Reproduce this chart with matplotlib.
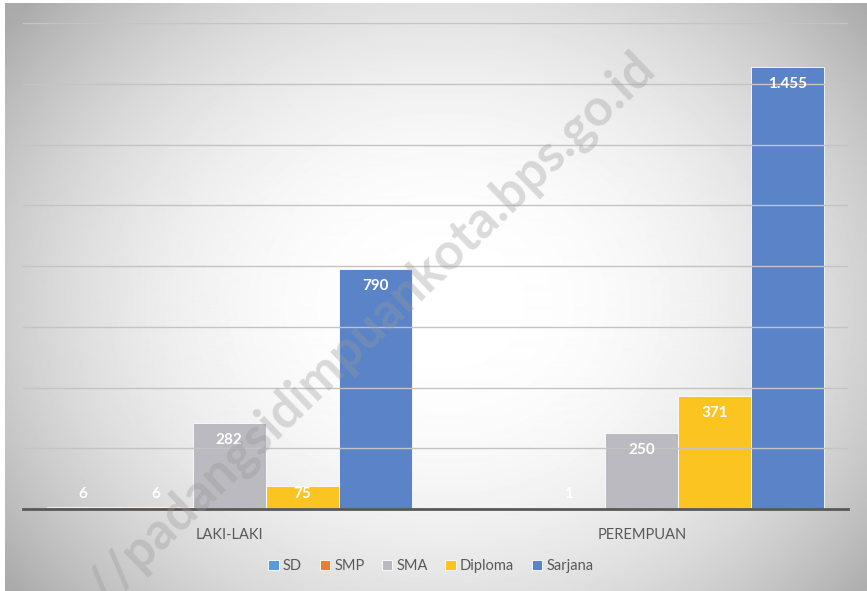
import matplotlib
matplotlib.use("Agg")
import matplotlib.pyplot as plt
import numpy as np

plt.rcParams["font.family"] = ["Lato", "DejaVu Sans"]

# data
groups = ["LAKI-LAKI", "PEREMPUAN"]
series = ["SD", "SMP", "SMA", "Diploma", "Sarjana"]
values = {
    "SD": [6, np.nan],
    "SMP": [6, 1],
    "SMA": [282, 250],
    "Diploma": [75, 371],
    "Sarjana": [790, 1455],
}
colors = ["#5B9BD5", "#ED7D31", "#BABAC0", "#FBC420", "#5A83C8"]

fig = plt.figure(figsize=(8.67, 5.91), dpi=100)

# radial grey background
bg = fig.add_axes([0.006, 0, 0.994, 0.995])
h, w = 588, 862
yy, xx = np.mgrid[0:h, 0:w]
d = np.sqrt(((xx - 440) / 500.0) ** 2 + ((yy - 300) / 420.0) ** 2)
shade = 255 - 68 * np.clip(d, 0, 1.1) ** 2.3
bg.imshow(shade, cmap="gray", vmin=0, vmax=255, aspect="auto", interpolation="bilinear")
bg.axis("off")

ax = fig.add_axes([0.0265, 0.1387, 0.9516, 0.8223])
ax.patch.set_alpha(0)

x = np.arange(len(groups))
bw = 0.177
for i, (name, col) in enumerate(zip(series, colors)):
    vals = np.array(values[name], dtype=float)
    pos = x + (i - 2) * bw
    ax.bar(pos, vals, bw, color=col, edgecolor="white", linewidth=0.6, label=name, zorder=2)
    for p, v in zip(pos, vals):
        if np.isnan(v):
            continue
        lab = f"{v:,.0f}".replace(",", ".")
        ax.text(p, max(v - 56, 48), lab, ha="center", va="center", color="white",
                fontsize=11, fontweight="bold", zorder=4)

ax.set_xlim(-0.5, 1.5)
ax.set_ylim(0, 1600)
ax.set_yticks(np.arange(200, 1601, 200))
ax.yaxis.grid(True, color="#c4c4c4", linewidth=1, zorder=3)
ax.set_axisbelow(False)
ax.tick_params(axis="y", left=False, labelleft=False)
ax.tick_params(axis="x", bottom=False, labelsize=10.5, labelcolor="#595959", pad=10)
ax.set_xticks(x)
ax.set_xticklabels(groups)
for s in ["top", "right", "left"]:
    ax.spines[s].set_visible(False)
ax.spines["bottom"].set_color("#595959")
ax.spines["bottom"].set_linewidth(2)
ax.spines["bottom"].set_zorder(5)

fig.legend(loc="center", bbox_to_anchor=(0.497, 0.042), ncol=5, frameon=False,
           fontsize=10.5, handlelength=0.7, handleheight=0.7, handletextpad=0.3,
           columnspacing=1.2, labelcolor="#595959")

# watermark
fig.text(648 / 867, 1 - 60 / 591, "https://padangsidimpuankota.bps.go.id",
         rotation=44, rotation_mode="anchor", ha="right", va="center",
         fontsize=37, fontweight="bold", color="#9a9a9a", alpha=0.35, zorder=10)

fig.savefig("out.png", dpi=100)
